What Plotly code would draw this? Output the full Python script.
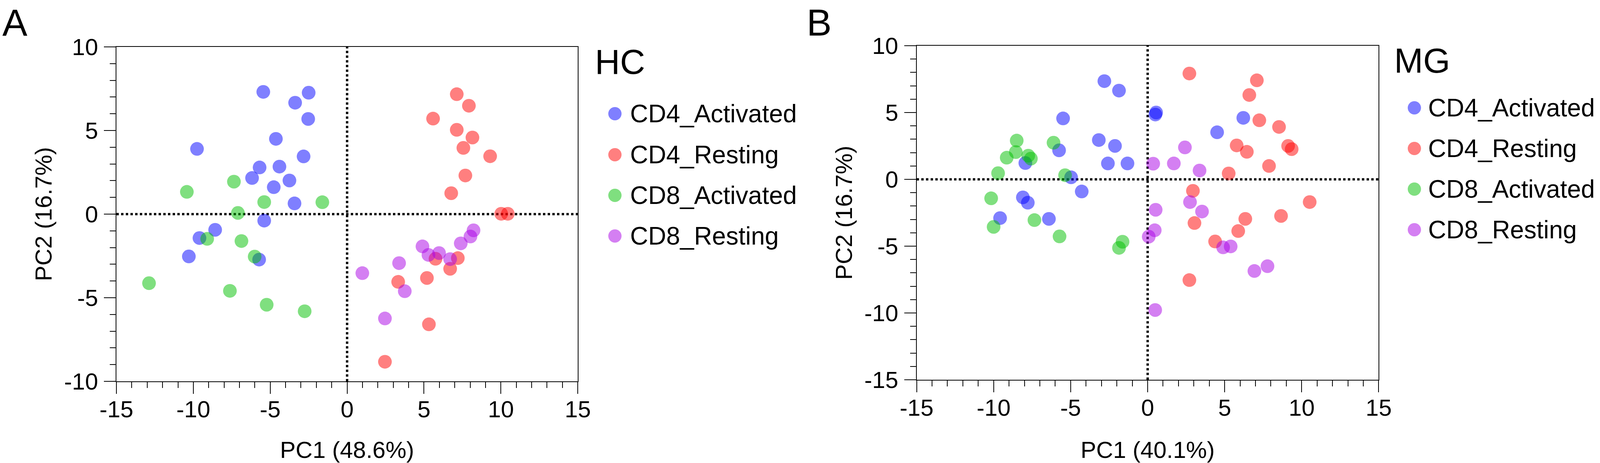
import plotly.graph_objects as go

# ---------------- data ----------------
groups = ["CD4_Activated", "CD4_Resting", "CD8_Activated", "CD8_Resting"]
group_colors = ["rgb(0,0,255)", "rgb(255,0,0)", "rgb(0,192,0)", "rgb(170,0,230)"]

# Panel A (HC)
hc_cd4_act_x = [-5.45, -2.50, -3.38, -2.53, -4.63, -9.76, -2.83, -5.69, -4.40, -6.18, -3.75, -4.77, -3.42, -5.39, -8.58, -9.60, -10.29, -5.72]
hc_cd4_act_y = [7.31, 7.26, 6.66, 5.69, 4.50, 3.90, 3.45, 2.79, 2.84, 2.16, 2.01, 1.61, 0.64, -0.39, -0.94, -1.43, -2.53, -2.72]
hc_cd4_rest_x = [7.13, 7.92, 5.59, 7.13, 8.15, 7.56, 9.30, 7.69, 6.77, 10.02, 10.45, 7.20, 5.75, 6.70, 3.32, 5.19, 5.32, 2.46]
hc_cd4_rest_y = [7.17, 6.48, 5.71, 5.04, 4.58, 3.96, 3.46, 2.31, 1.25, 0.02, 0.02, -2.63, -2.67, -3.27, -4.05, -3.82, -6.59, -8.83]
hc_cd8_act_x = [-7.36, -10.42, -5.39, -1.61, -7.10, -9.10, -6.87, -6.01, -12.88, -7.62, -5.23, -2.76]
hc_cd8_act_y = [1.94, 1.33, 0.72, 0.71, 0.07, -1.48, -1.61, -2.54, -4.13, -4.59, -5.42, -5.81]
hc_cd8_rest_x = [8.22, 8.02, 7.39, 4.90, 5.98, 5.29, 6.70, 3.38, 0.99, 3.75, 2.46]
hc_cd8_rest_y = [-0.97, -1.34, -1.75, -1.93, -2.33, -2.44, -2.69, -2.93, -3.53, -4.61, -6.24]

# Panel B (MG)
mg_cd4_act_x = [-2.81, -1.86, 0.50, 0.55, -5.49, 6.21, 4.51, -3.17, -2.12, -5.75, -2.58, -1.31, -7.94, -4.97, -4.28, -8.10, -7.78, -9.58, -6.41]
mg_cd4_act_y = [7.35, 6.64, 4.85, 5.00, 4.56, 4.60, 3.52, 2.94, 2.50, 2.17, 1.19, 1.19, 1.22, 0.15, -0.91, -1.35, -1.75, -2.90, -2.96]
mg_cd4_rest_x = [2.71, 7.09, 6.60, 7.25, 8.53, 5.78, 6.44, 9.12, 9.35, 7.88, 5.26, 2.94, 10.52, 8.66, 6.34, 3.04, 5.88, 4.38, 2.71]
mg_cd4_rest_y = [7.92, 7.41, 6.31, 4.42, 3.92, 2.54, 2.06, 2.50, 2.26, 1.00, 0.44, -0.86, -1.70, -2.74, -2.96, -3.27, -3.87, -4.65, -7.54]
mg_cd8_act_x = [-8.50, -8.56, -6.11, -9.15, -7.75, -7.58, -9.71, -5.36, -10.16, -10.00, -7.35, -5.72, -1.63, -1.86]
mg_cd8_act_y = [2.90, 2.04, 2.74, 1.62, 1.77, 1.55, 0.46, 0.31, -1.42, -3.56, -3.05, -4.27, -4.67, -5.13]
mg_cd8_rest_x = [2.42, 0.36, 1.70, 3.37, 2.75, 0.52, 3.53, 0.46, 0.07, 4.90, 5.39, 7.78, 6.93, 0.49]
mg_cd8_rest_y = [2.39, 1.17, 1.19, 0.66, -1.70, -2.28, -2.41, -3.81, -4.29, -5.09, -5.02, -6.50, -6.86, -9.78]

panel_letters = ["A", "B"]
panel_titles = ["HC", "MG"]
x_titles = ["PC1 (48.6%)", "PC1 (40.1%)"]
y_titles = ["PC2 (16.7%)", "PC2 (16.7%)"]
x_range = [-15, 15]
y_ranges = [[-10, 10], [-15, 10]]
x_tickvals = [-15, -10, -5, 0, 5, 10, 15]
x_ticktext = ["-15", "-10", "-5", "0", "5", "10", "15"]
y_tickvals = [[-10, -5, 0, 5, 10], [-15, -10, -5, 0, 5, 10]]
y_ticktext = [["-10", "-5", "0", "5", "10"], ["-15", "-10", "-5", "0", "5", "10"]]

panels = [
    [(hc_cd4_act_x, hc_cd4_act_y), (hc_cd4_rest_x, hc_cd4_rest_y),
     (hc_cd8_act_x, hc_cd8_act_y), (hc_cd8_rest_x, hc_cd8_rest_y)],
    [(mg_cd4_act_x, mg_cd4_act_y), (mg_cd4_rest_x, mg_cd4_rest_y),
     (mg_cd8_act_x, mg_cd8_act_y), (mg_cd8_rest_x, mg_cd8_rest_y)],
]

# ---------------- layout geometry (reference pixels, converted to paper fractions) ----------------
W, H = 4439, 1185
FONT = "Arial, Liberation Sans, Helvetica, sans-serif"
ax_px = [(323, 1603, 120, 976), (2543, 3825, 117, 972)]  # left, right, top, bottom
letter_px = [(4, 2), (2236, 2)]
legend_title_px = [(1648, 158), (3866, 155)]
legend_marker_x = [1706, 3924]
legend_row_y = [[291, 396, 500, 604], [276, 380, 484, 588]]
legend_text_x = [1746, 3960]

TICK_FS, TITLE_FS, LEG_FS, LEGT_FS, LETTER_FS = 60, 60, 64, 89, 96


def px_x(p):
    return p / W


def px_y(p):
    return 1 - p / H


fig = go.Figure()
shapes = []
annotations = []

for i, data in enumerate(panels):
    xa = "x" if i == 0 else "x2"
    ya = "y" if i == 0 else "y2"
    for g, (xs, ys) in enumerate(data):
        fig.add_trace(go.Scatter(
            x=xs, y=ys, mode="markers", name=groups[g], showlegend=False,
            xaxis=xa, yaxis=ya,
            marker=dict(size=35, color=group_colors[g], opacity=0.5, line=dict(width=0)),
        ))
    l, r, t, b = ax_px[i]
    axis_common = dict(
        showline=True, linewidth=2, linecolor="black", mirror=True,
        showgrid=False, zeroline=False, automargin=False,
        ticks="outside", ticklen=30, tickwidth=2, tickcolor="black",
        tickfont=dict(family=FONT, size=TICK_FS, color="black"),
        minor=dict(dtick=1, ticks="outside", ticklen=15, tickwidth=2, tickcolor="black"),
    )
    fig.layout["xaxis" if i == 0 else "xaxis2"] = dict(
        axis_common, domain=[px_x(l), px_x(r)], range=x_range, anchor=ya,
        tickvals=x_tickvals, ticktext=x_ticktext, ticklabelstandoff=-12,
        title=dict(text=x_titles[i], font=dict(family=FONT, size=TITLE_FS, color="black"), standoff=64),
    )
    fig.layout["yaxis" if i == 0 else "yaxis2"] = dict(
        axis_common, domain=[px_y(b), px_y(t)], range=y_ranges[i], anchor=xa,
        tickvals=y_tickvals[i], ticktext=y_ticktext[i], ticklabelstandoff=3,
        title=dict(text=y_titles[i], font=dict(family=FONT, size=TITLE_FS, color="black"), standoff=12),
    )
    # dotted zero lines
    dot = dict(color="black", width=6, dash="6px,6px")
    shapes.append(dict(type="line", xref=xa, yref=ya + " domain", x0=0, x1=0, y0=0, y1=1,
                       line=dot, layer="below"))
    shapes.append(dict(type="line", xref=xa + " domain", yref=ya, x0=0, x1=1, y0=0, y1=0,
                       line=dot, layer="below"))
    # panel letter
    annotations.append(dict(text=panel_letters[i], xref="paper", yref="paper",
                            x=px_x(letter_px[i][0]), y=px_y(letter_px[i][1]),
                            xanchor="left", yanchor="top", showarrow=False,
                            font=dict(family=FONT, size=LETTER_FS, color="black")))
    # legend title
    annotations.append(dict(text=panel_titles[i], xref="paper", yref="paper",
                            x=px_x(legend_title_px[i][0]), y=px_y(legend_title_px[i][1]),
                            xanchor="left", yanchor="middle", showarrow=False,
                            font=dict(family=FONT, size=LEGT_FS, color="black")))
    # legend entries
    for g in range(4):
        cy = legend_row_y[i][g]
        shapes.append(dict(type="circle", xref="paper", yref="paper",
                           xsizemode="pixel", ysizemode="pixel",
                           xanchor=px_x(legend_marker_x[i]), yanchor=px_y(cy),
                           x0=-17, x1=17, y0=-17, y1=17,
                           fillcolor=group_colors[g], opacity=0.5, line=dict(width=0)))
        annotations.append(dict(text=groups[g], xref="paper", yref="paper",
                                x=px_x(legend_text_x[i]), y=px_y(cy),
                                xanchor="left", yanchor="middle", showarrow=False,
                                font=dict(family=FONT, size=LEG_FS, color="black")))

fig.update_layout(
    autosize=True,
    margin=dict(l=0, r=0, t=0, b=0, pad=0, autoexpand=False),
    paper_bgcolor="white", plot_bgcolor="white",
    showlegend=False,
    shapes=shapes, annotations=annotations,
    font=dict(family=FONT, color="black"),
)

fig.write_html("out.html", config={"displayModeBar": False, "responsive": True},
               default_width="100vw", default_height="100vh",
               post_script="document.body.style.margin='0';document.body.style.overflow='hidden';"
                           "window.dispatchEvent(new Event('resize'));")
